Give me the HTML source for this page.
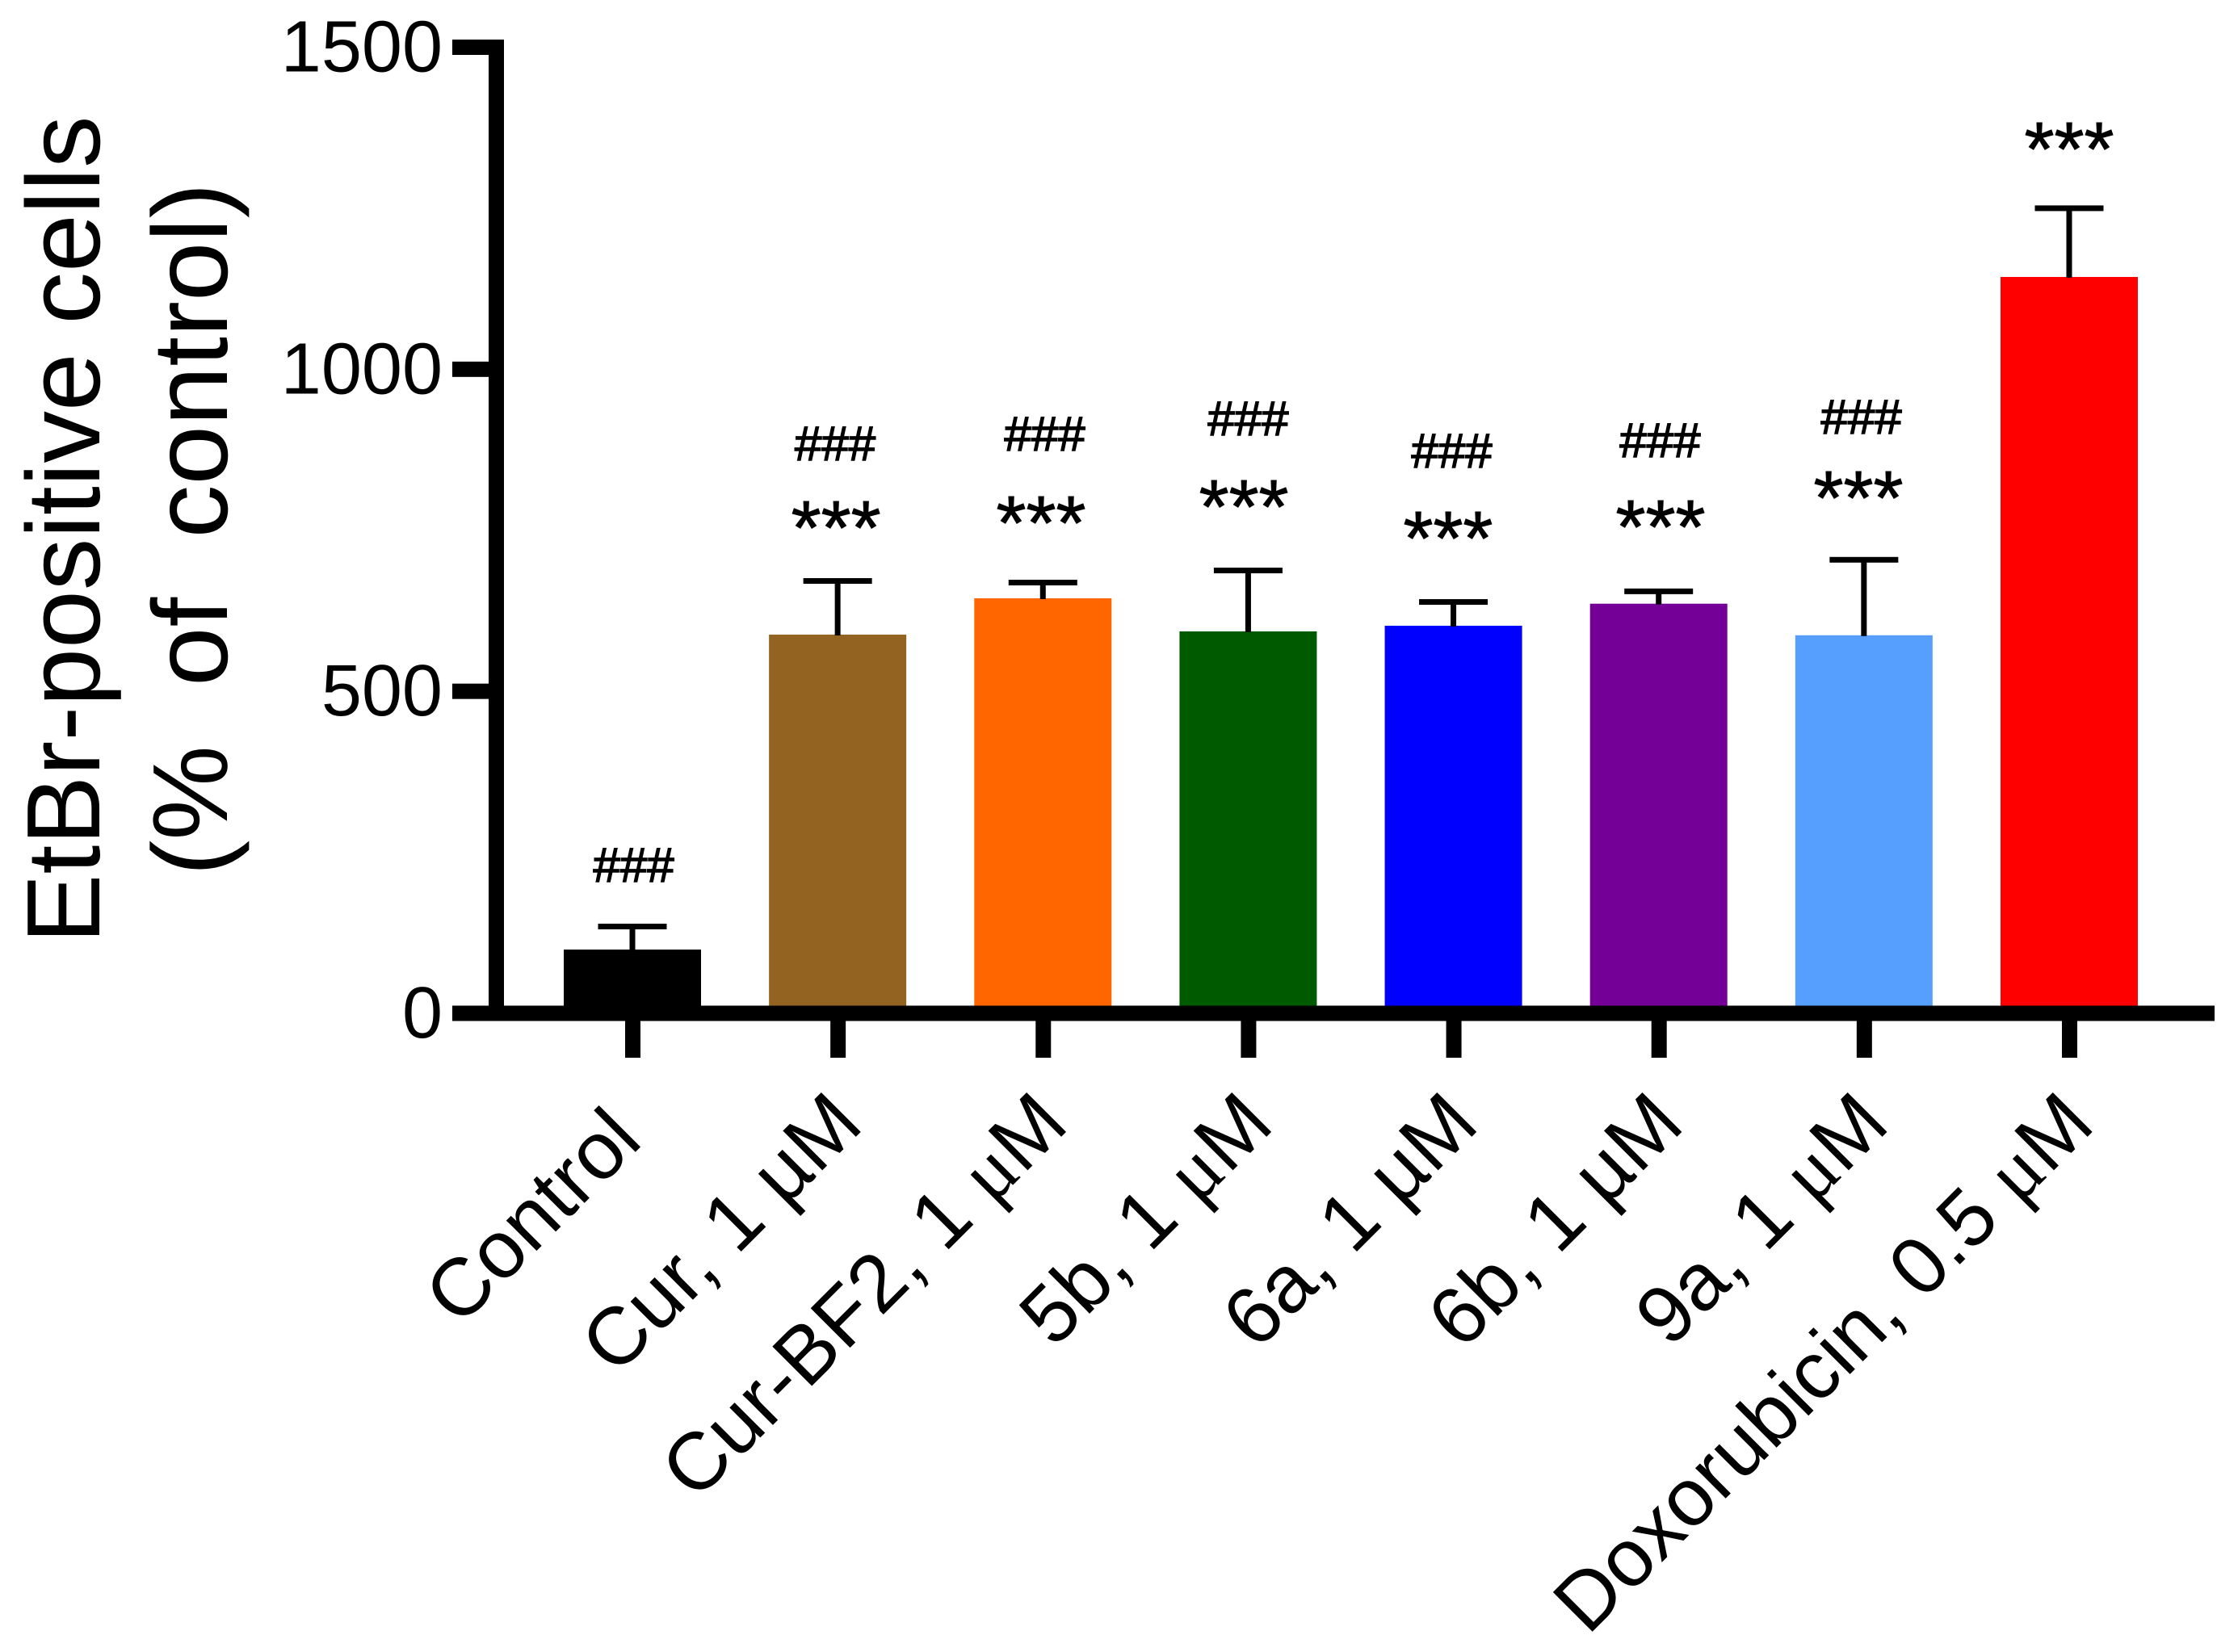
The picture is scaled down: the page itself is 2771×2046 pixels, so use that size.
<!DOCTYPE html>
<html lang="en">
<head>
<meta charset="utf-8">
<title>EtBr-positive cells bar chart</title>
<style>
html,body{margin:0;padding:0;background:#fff;}
#chart{display:block;position:absolute;left:0;top:0;}
text{font-family:"Liberation Sans",Arial,sans-serif;fill:#000;white-space:pre;}
.mu{font-family:"Liberation Serif",serif;}
</style>
</head>
<body>
<svg id="chart" xmlns="http://www.w3.org/2000/svg" width="2771" height="2046" viewBox="0 0 2771 2046">
<rect x="0" y="0" width="2771" height="2046" fill="#ffffff"/>
<g id="bars"></g>
<g id="errors"></g>
<g id="annotations"></g>
<g id="axes"></g>
<g id="ylabels"></g>
<g id="xlabels"></g>
<text transform="translate(123,656) rotate(-90)" text-anchor="middle" font-size="129">EtBr-positive cells</text>
<text transform="translate(281,655.5) rotate(-90)" text-anchor="middle" font-size="132">(%  of  control)</text>
</svg>
<script>
// Data. U+03BC (Greek mu) is drawn in the serif face, U+00B5 (micro) in the sans face.
const categories = ["Control ", "Cur, 1 µM", "Cur-BF2, 1 μM", "5b, 1 μM", "6a, 1 µM", "6b, 1 µM", "9a, 1 μM", "Doxorubicin, 0.5 μM"];
const means = [99, 588, 644.4, 593, 601.8, 636, 587, 1143.3];
const errors = [35.8, 83.3, 24.4, 94.6, 36.9, 19.2, 117.2, 106.7];
const barColors = ["#000000", "#936322", "#ff6600", "#005a00", "#0000ff", "#750097", "#569fff", "#ff0000"];
const yTicks = [0, 500, 1000, 1500];
const hashLevels = [204.3, 858.8, 873.8, 897.6, 847.5, 863.8, 900.1, null];
const starLevels = [null, 713.5, 721, 746, 697, 714.8, 760, 1301.5];
const hashShift = [0.006, -0.012, 0.009, 0, -0.008, 0.007, -0.013, 0];
const starShift = [0, -0.008, -0.009, -0.021, -0.026, 0.009, -0.027, 0];

const NS = "http://www.w3.org/2000/svg";
const yScale = v => 1255 - v * (1196.5 / 1500);
const xScale = i => 783 + i * 254.14;
const barW = 170, capW = 85, capT = 7, stemW = 7;
const axisT = 19;

function make(tag, attrs, parentId) {
  const el = document.createElementNS(NS, tag);
  for (const k in attrs) el.setAttribute(k, attrs[k]);
  document.getElementById(parentId).appendChild(el);
  return el;
}

categories.forEach((cat, i) => {
  const key = cat.trim().split(",")[0].toLowerCase();
  const cx = xScale(i);
  const top = yScale(means[i]);
  const capY = yScale(means[i] + errors[i]);

  const bar = make("rect", {x: cx - barW / 2, y: top, width: barW, height: yScale(0) - top, fill: barColors[i]}, "bars");
  
  

  const stem = make("rect", {x: cx - stemW / 2, y: capY, width: stemW, height: top - capY + 1, fill: "#000"}, "errors");
  
  

  const cap = make("rect", {x: cx - capW / 2, y: capY - capT / 2, width: capW, height: capT, fill: "#000"}, "errors");
  
  

  if (hashLevels[i] !== null) {
    const h = make("text", {x: xScale(i + hashShift[i]), y: yScale(hashLevels[i]), "text-anchor": "middle", "font-size": 60, stroke: "#000", "stroke-width": 1.5}, "annotations");
    h.textContent = "###";
    
    
  }
  if (starLevels[i] !== null) {
    const s = make("text", {x: xScale(i + starShift[i]), y: yScale(starLevels[i]), "text-anchor": "middle", "font-size": 95, stroke: "#000", "stroke-width": 1}, "annotations");
    s.textContent = "***";
    
    
  }

  const tick = make("rect", {x: cx + 0.5 - axisT / 2, y: yScale(0), width: axisT, height: 55, fill: "#000"}, "axes");
  
  

  const ax = cx + 34.5, ay = 1396;
  const label = make("text", {transform: "translate(" + ax + "," + ay + ") rotate(-45)", "text-anchor": "end", "font-size": 100.5}, "xlabels");
  
  
  cat.split(/(μ)/).forEach(part => {
    if (!part) return;
    const t = document.createElementNS(NS, "tspan");
    if (part === "μ") t.setAttribute("class", "mu");
    t.textContent = part;
    label.appendChild(t);
  });
});

const yAxis = make("rect", {x: 605, y: yScale(1500) - axisT / 2, width: axisT, height: yScale(0) - yScale(1500) + axisT, fill: "#000"}, "axes");



const xAxis = make("rect", {x: 560, y: yScale(0) - axisT / 2, width: 2182, height: axisT, fill: "#000"}, "axes");



yTicks.forEach(v => {
  const t = make("rect", {x: 560, y: yScale(v) - axisT / 2, width: 50, height: axisT, fill: "#000"}, "axes");
  
  

  const l = make("text", {x: 548, y: yScale(v) + 30, "text-anchor": "end", "font-size": 90}, "ylabels");
  l.textContent = String(v);
  
  
});
</script>
</body>
</html>
